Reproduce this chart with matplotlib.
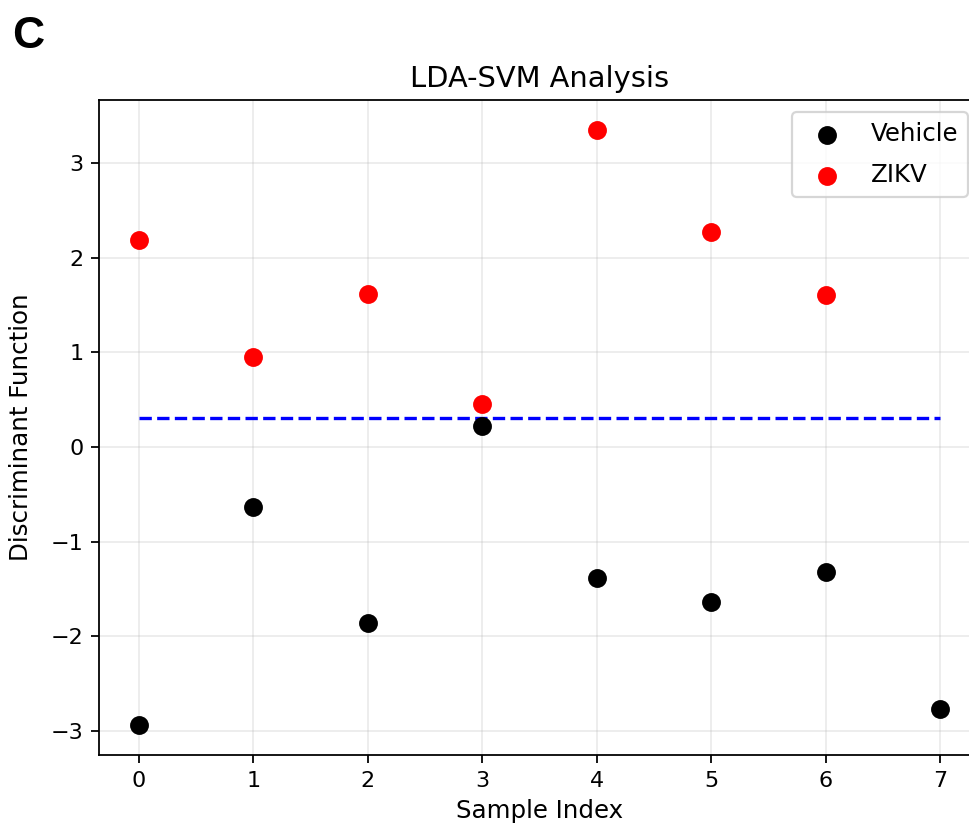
import matplotlib
matplotlib.use("Agg")
import matplotlib.pyplot as plt

# values
vehicle_idx = [0, 1, 2, 3, 4, 5, 6, 7]
vehicle_val = [-2.94, -0.64, -1.86, 0.22, -1.39, -1.64, -1.32, -2.77]
zikv_idx = [0, 1, 2, 3, 4, 5, 6]
zikv_val = [2.19, 0.95, 1.62, 0.45, 3.35, 2.27, 1.60]
threshold = 0.31

fig = plt.figure(figsize=(969 / 160, 827 / 160), dpi=160)
# the original figure is cropped on the right, so the axes run past the edge
ax = fig.add_axes([99 / 969, 1 - 755 / 827, (980 - 99) / 969, (755 - 100) / 827])

ax.scatter(vehicle_idx, vehicle_val, color='black', s=56, label='Vehicle', zorder=3)
ax.scatter(zikv_idx, zikv_val, color='red', s=56, label='ZIKV', zorder=3)
ax.plot([min(vehicle_idx), max(vehicle_idx)], [threshold, threshold], 'b--', linewidth=1.5)

ax.set_title("LDA-SVM Analysis", fontsize=13)
ax.set_xlabel("Sample Index", fontsize=11)
ax.set_ylabel("Discriminant Function", fontsize=11, labelpad=8)
ax.grid(True, alpha=0.25)
ax.legend(loc='upper right', fontsize=11, labelspacing=0.7)

fig.text(0.012, 0.942, "C", fontsize=20, fontweight='bold', family='Liberation Sans')

fig.savefig("out.png", dpi=160)
